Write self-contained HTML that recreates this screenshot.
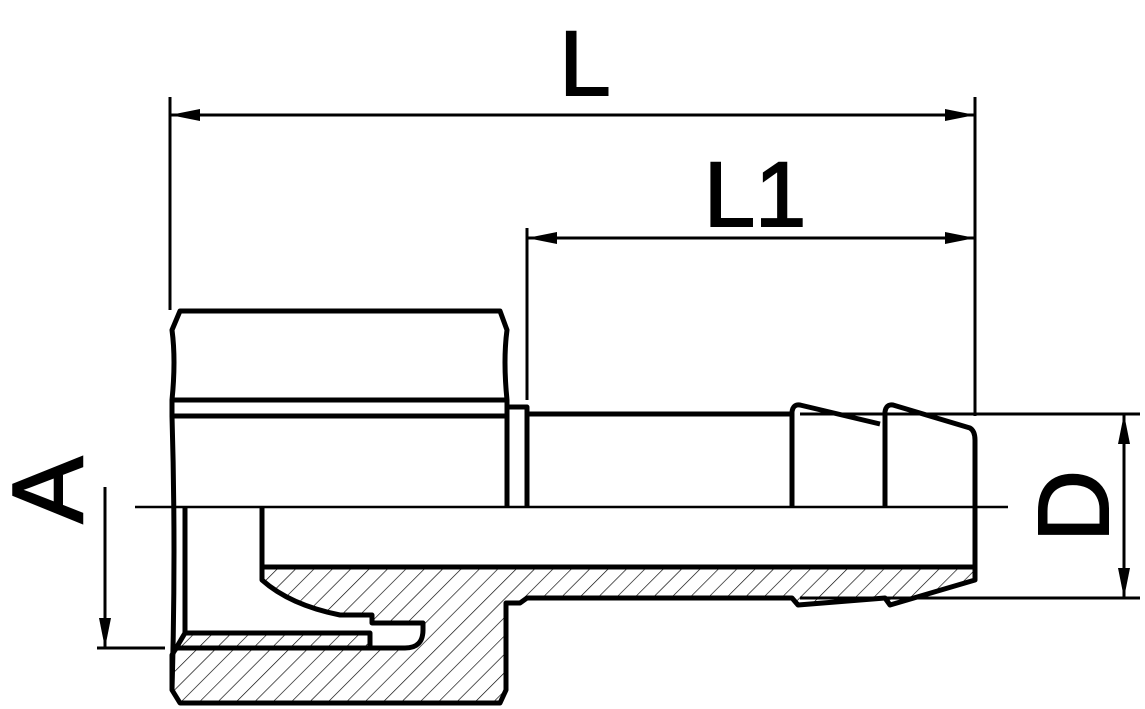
<!DOCTYPE html>
<html><head><style>html,body{margin:0;padding:0;background:#fff}svg{display:block}</style></head>
<body>
<svg width="1145" height="709" viewBox="0 0 1145 709" xmlns="http://www.w3.org/2000/svg">
<defs>
<pattern id="h" patternUnits="userSpaceOnUse" width="13" height="13" patternTransform="rotate(45)">
<line x1="0" y1="0" x2="0" y2="13" stroke="#000" stroke-width="1.3"/>
</pattern>
</defs>
<g fill="none" stroke="#000" stroke-linejoin="round">
<path d="M262,567 H975 V580 L890,605 L885,598 L798,605 L792,598 H527 L520,603 H506 V690 L500,703 H180 L172,690 V655 L185,633 H370 V648 H405 Q423,648 423,630 V623 H372 V615 H340 Q290,605 262,580 Z" fill="url(#h)" stroke-width="5"/>
<line x1="172" y1="648" x2="372" y2="648" stroke-width="5"/>
<path d="M507,507 V416 V400 Q503,360 507,330 L500,311 H180 L172,330 Q176,360 172,400 V416 Q176,550 172,690" stroke-width="5"/>
<line x1="172" y1="400" x2="507" y2="400" stroke-width="5"/>
<line x1="172" y1="416" x2="507" y2="416" stroke-width="5"/>
<polyline points="185,507 185,633" stroke-width="5"/>
<polyline points="262,507 262,580" stroke-width="5"/>
<polyline points="507,407 527,407 527,507" stroke-width="5"/>
<line x1="527" y1="414" x2="792" y2="414" stroke-width="5"/>
<path d="M792,507 V412 Q793,404 800,405 L880,424" stroke-width="5"/>
<path d="M885,507 V412 Q886,404 893,405 L970,428 Q975,431 975,440 V580" stroke-width="5"/>
<line x1="135" y1="507" x2="1008" y2="507" stroke-width="2.5"/>
<line x1="170" y1="97" x2="170" y2="310" stroke-width="3"/>
<line x1="975" y1="97" x2="975" y2="416" stroke-width="3"/>
<line x1="170" y1="115" x2="975" y2="115" stroke-width="3"/>
<line x1="527" y1="228" x2="527" y2="400" stroke-width="3"/>
<line x1="527" y1="238" x2="975" y2="238" stroke-width="3"/>
<line x1="800" y1="414" x2="1140" y2="414" stroke-width="3"/>
<line x1="800" y1="598" x2="1140" y2="598" stroke-width="3"/>
<line x1="1124" y1="414" x2="1124" y2="598" stroke-width="3"/>
<line x1="97" y1="648" x2="165" y2="648" stroke-width="3"/>
<line x1="105" y1="487" x2="105" y2="648" stroke-width="3"/>
</g>
<g fill="#000">
<polygon points="170,115 200,109 200,121"/>
<polygon points="975,115 945,109 945,121"/>
<polygon points="527,238 557,232 557,244"/>
<polygon points="975,238 945,232 945,244"/>
<polygon points="1124,414 1118,444 1130,444"/>
<polygon points="1124,598 1118,568 1130,568"/>
<polygon points="105,648 99,618 111,618"/>
</g>
<g font-family="Liberation Sans, sans-serif" fill="#000" stroke="#000" stroke-width="2">
<text x="585" y="95" font-size="92" text-anchor="middle">L</text>
<text x="755" y="226" font-size="92" text-anchor="middle">L1</text>
<text transform="translate(1108,506) rotate(-90)" font-size="100" text-anchor="middle">D</text>
<text transform="translate(82,490) rotate(-90)" font-size="100" text-anchor="middle">A</text>
</g>
</svg>
</body></html>
